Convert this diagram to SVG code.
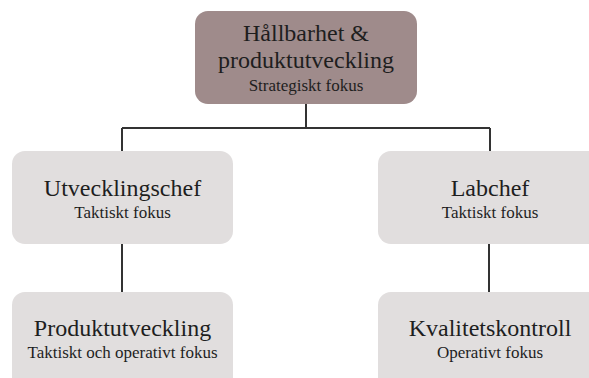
<svg xmlns="http://www.w3.org/2000/svg" width="589" height="378" viewBox="0 0 589 378">
<style>
.box{fill:#e1dede;}
.top{fill:#9f8b8b;}
.t{font-family:"Liberation Serif",serif;fill:#1e1e1e;text-anchor:middle;}
.m{font-size:24px;}
.s{font-size:17px;}
.c{stroke:#333;stroke-width:2;fill:none;}
</style>
<rect width="589" height="378" fill="#fff"/>
<g id="connectors">
<path class="c" d="M306 104V128M122 128H490M122 128V151M490 128V151M122 244V292M489 244V292"/>
</g>
<g id="n-top">
<rect class="top" x="195" y="11" width="222" height="93" rx="13"/>
<text class="t m" x="306" y="41">Hållbarhet &amp;</text>
<text class="t m" x="306" y="68">produktutveckling</text>
<text class="t s" x="306" y="91">Strategiskt fokus</text>
</g>
<g id="n-utv">
<rect class="box" x="12" y="151" width="221" height="93" rx="13"/>
<text class="t m" x="122.5" y="196">Utvecklingschef</text>
<text class="t s" x="122.5" y="218">Taktiskt fokus</text>
</g>
<g id="n-lab">
<rect class="box" x="378" y="151" width="224" height="93" rx="13"/>
<text class="t m" x="490" y="196">Labchef</text>
<text class="t s" x="490" y="218">Taktiskt fokus</text>
</g>
<g id="n-prod">
<rect class="box" x="12" y="292" width="221" height="100" rx="13"/>
<text class="t m" x="122.5" y="336">Produktutveckling</text>
<text class="t s" x="122.5" y="358">Taktiskt och operativt fokus</text>
</g>
<g id="n-kval">
<rect class="box" x="378" y="292" width="224" height="100" rx="13"/>
<text class="t m" x="490" y="336">Kvalitetskontroll</text>
<text class="t s" x="490" y="358">Operativt fokus</text>
</g>
</svg>
